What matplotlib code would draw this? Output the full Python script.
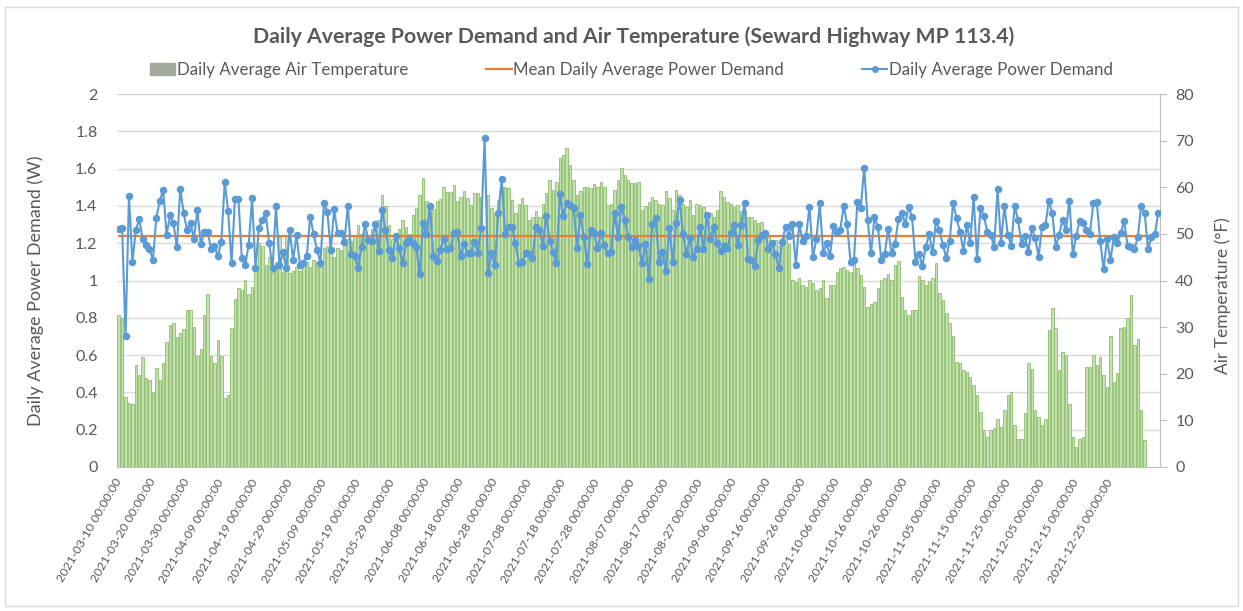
import matplotlib
matplotlib.use("Agg")
import matplotlib.pyplot as plt
from matplotlib.lines import Line2D
from matplotlib.patches import Patch, Rectangle
import numpy as np
import pandas as pd

# ---------------- data ----------------
start_date = "2021-03-10"

power_demand = [
    1.276, 1.283, 0.70, 1.455, 1.10, 1.27, 1.33, 1.224, 1.19, 1.17,
    1.108, 1.337, 1.428, 1.485, 1.244, 1.35, 1.31, 1.178, 1.492, 1.36,
    1.27, 1.31, 1.222, 1.378, 1.194, 1.258, 1.262, 1.17, 1.185, 1.13,
    1.208, 1.528, 1.373, 1.092, 1.437, 1.437, 1.119, 1.083, 1.19, 1.44,
    1.065, 1.283, 1.324, 1.36, 1.2, 1.065, 1.40, 1.083, 1.151, 1.065,
    1.271, 1.11, 1.242, 1.083, 1.096, 1.133, 1.342, 1.248, 1.163, 1.096,
    1.417, 1.369, 1.163, 1.382, 1.253, 1.257, 1.208, 1.40, 1.142, 1.131,
    1.065, 1.178, 1.303, 1.217, 1.214, 1.301, 1.16, 1.378, 1.271, 1.163,
    1.119, 1.24, 1.172, 1.096, 1.203, 1.221, 1.199, 1.178, 1.035, 1.31,
    1.248, 1.40, 1.131, 1.105, 1.163, 1.221, 1.167, 1.172, 1.253, 1.262,
    1.131, 1.196, 1.146, 1.149, 1.208, 1.149, 1.28, 1.766, 1.042, 1.146,
    1.083, 1.364, 1.542, 1.249, 1.289, 1.289, 1.199, 1.092, 1.101, 1.146,
    1.142, 1.122, 1.289, 1.271, 1.187, 1.346, 1.214, 1.155, 1.092, 1.464,
    1.346, 1.417, 1.405, 1.39, 1.176, 1.351, 1.232, 1.087, 1.271, 1.253,
    1.172, 1.257, 1.19, 1.146, 1.151, 1.364, 1.235, 1.396, 1.324, 1.235,
    1.181,
    1.217, 1.185, 1.096, 1.196, 1.006, 1.303, 1.333, 1.101, 1.155, 1.051,
    1.28, 1.101, 1.31, 1.432, 1.249, 1.142, 1.226, 1.124, 1.167, 1.289,
    1.169, 1.351, 1.222, 1.285, 1.199, 1.16, 1.187, 1.172, 1.257, 1.298,
    1.19, 1.298, 1.417, 1.113, 1.11, 1.078, 1.217, 1.244, 1.257, 1.167,
    1.199, 1.142, 1.065, 1.208, 1.289, 1.239, 1.303, 1.083, 1.303,
    1.212, 1.239, 1.396, 1.124, 1.221, 1.414, 1.149, 1.199, 1.131, 1.292,
    1.262, 1.271, 1.401, 1.303, 1.101, 1.11, 1.423, 1.39, 1.605, 1.324,
    1.146, 1.339, 1.289, 1.11, 1.142, 1.276, 1.146, 1.196, 1.328, 1.364,
    1.303, 1.396, 1.339, 1.101, 1.142, 1.078, 1.181, 1.248, 1.151, 1.321,
    1.271, 1.19, 1.122, 1.214, 1.417, 1.333, 1.262, 1.16, 1.30,
    1.199, 1.449, 1.115, 1.39, 1.346, 1.262, 1.244, 1.181, 1.489, 1.199,
    1.40, 1.244, 1.187, 1.40, 1.324, 1.196, 1.239, 1.155, 1.28, 1.226,
    1.128, 1.285, 1.298, 1.428, 1.36, 1.181, 1.244, 1.324, 1.271, 1.428,
    1.14, 1.239, 1.321, 1.31, 1.271, 1.249, 1.414, 1.423, 1.214, 1.062,
    1.221, 1.11, 1.232, 1.203, 1.253, 1.321, 1.187, 1.181, 1.167, 1.232,
    1.40, 1.364, 1.167, 1.235, 1.249, 1.364,
]

air_temperature = [
    32.7, 32.0, 15.1, 13.7, 13.6, 21.9, 19.7, 23.5, 19.0, 18.7,
    16.0, 21.2, 18.7, 22.4, 26.9, 30.5, 30.8, 27.9, 28.8, 29.7,
    33.7, 33.7, 30.1, 23.8, 25.4, 32.7, 37.2, 23.9, 22.2, 27.2,
    23.7, 14.7, 15.4, 29.9, 36.0, 38.3, 38.0, 40.1, 37.2, 38.7,
    43.0, 48.0, 47.3, 43.3, 45.1, 41.9, 44.0, 49.4, 41.9, 49.8,
    41.6,
    42, 43, 42, 43.5, 44, 43, 44.5, 44, 43, 47,
    47.5, 46, 45, 47, 46.5, 48, 49, 48.5, 49.5, 52,
    50, 50.5, 48.5, 51, 50, 53, 58.3, 56, 52, 49,
    50, 51, 53, 51.5, 50, 54, 55.5, 58.3, 62, 57,
    55, 55.3, 57, 57.5, 60, 59, 59, 60.5, 57,
    58, 59.1, 57.6, 56.2, 58.7, 58.7, 58, 51.5, 58.3, 55.5,
    54.4, 57.3, 60.1, 60.1, 59.8, 57.3, 54.4, 56.5, 57.6, 56.2,
    53, 53.7, 54.8, 53.7, 56.5, 58.7, 61.6, 59.4, 61.2, 66.2,
    66.9, 68.4, 64.8, 61.6, 58.3, 59.1, 60.1, 60.1, 59.8, 60.8,
    60.1, 61.2, 60.1, 56.2, 56.5, 59.4, 61.6, 64.1, 62.7, 61.6,
    61, 61, 61.2, 55.1, 56, 56.9, 58, 57.3, 56.5, 56.2,
    59.1, 57.6, 55.1, 59.4, 58.3, 56.5, 55.8, 57.3, 54.1, 56.5,
    56.2, 55.8, 53, 54.4, 53.7, 55.1, 59.1, 58, 56.9, 56.5,
    55.8, 56.2, 55, 55.1, 53.7, 53.7, 53, 52.3, 52.6, 49.4,
    49.4, 47.9, 48.6, 47.5, 48.6, 49.4, 47.9, 40.1, 39.7, 40.5,
    39, 38.5, 40.1, 39.5, 38, 38.3, 40.1, 36.2, 39, 39,
    41.9, 42.6, 43, 42.3, 41.9, 44.7, 42.6, 41.2, 38.7, 34.4,
    35, 35.3, 38.3, 40.1, 40.5, 41.4, 40.1, 43.3, 44.1, 36.5,
    33.7, 32.7, 33.7, 33.7, 40.9, 40.1, 39, 39.8, 40.5, 43.7,
    37.3, 35.8, 33, 30.8, 28, 22.6, 22.2, 20.8, 20.4,
    19.3, 17.6, 15.4, 11.8, 7.9, 6.5, 7.9, 8.3, 10.4, 8.6,
    12.2, 15.4, 16.1, 9, 6.1, 6.1, 11.5, 22.2, 21.1, 12.2,
    10.8, 9, 10.4, 29.4, 34.1, 29.8, 20.8, 24.7, 24, 13.6,
    6.5, 4.3, 6.1, 6.5, 21.5, 21.5, 24, 21.8, 23.6, 19.7,
    17.2, 28, 18.2, 20.1, 29.8, 30.1, 31.9, 36.9, 26.1, 27.5,
    12.2, 5.8,
]

mean_power = 1.24

title = "Daily Average Power Demand and Air Temperature (Seward Highway MP 113.4)"
series_names = ["Daily Average Air Temperature",
                "Mean Daily Average Power Demand",
                "Daily Average Power Demand"]
left_label = "Daily Average Power Demand (W)"
right_label = "Air Temperature (\u00b0F)"

# ---------------- derived ----------------
n = len(power_demand)
dates = pd.date_range(start_date, periods=n, freq="D")
x_power = np.arange(n)
x_temp = np.arange(len(air_temperature))
label_idx = list(range(0, 291, 10))
tick_labels = [dates[i].strftime("%Y-%m-%d") + " 00:00:00" for i in label_idx]

# ---------------- style ----------------
FONT = ["Lato", "DejaVu Sans"]
plt.rcParams["font.family"] = FONT
TXT = "#595959"
GRID = "#d9d9d9"

W, H = 1243, 611
fig = plt.figure(figsize=(W / 100, H / 100), dpi=100)
L, R, T, B = 117, 1160, 94, 467
ax2 = fig.add_axes([L / W, 1 - B / H, (R - L) / W, (B - T) / H])
ax = ax2.twinx()
ax.yaxis.tick_left()
ax.yaxis.set_label_position("left")
ax2.yaxis.tick_right()
ax2.yaxis.set_label_position("right")
ax2.set_zorder(1)
ax.set_zorder(2)
ax.patch.set_visible(False)

# gridlines (behind bars) on temperature axis, matching power steps 0.2
for gv in np.arange(8, 81, 8):
    ax2.axhline(gv, color=GRID, lw=1.0, zorder=0)

ax2.bar(x_temp, air_temperature, width=0.72, color="#c5e0b3",
        edgecolor="#8dbf6a", linewidth=0.6, zorder=2)
ax2.set_ylim(0, 80)
ax2.set_yticks(range(0, 81, 10))

ax.plot(x_power, [mean_power] * n, color="#ed7d31", lw=1.6, zorder=3)
ax.plot(x_power, power_demand, color="#5b9bd5", lw=1.5, marker="o",
        markersize=4.4, markerfacecolor="#5b9bd5", markeredgecolor="#5b9bd5",
        zorder=4)
ax.set_ylim(0, 2)
ax.set_yticks(np.arange(0, 2.01, 0.2))
ax.set_yticklabels(["0", "0.2", "0.4", "0.6", "0.8", "1", "1.2", "1.4",
                    "1.6", "1.8", "2"])
ax.set_xlim(-0.5, n - 0.5)

ax2.set_xticks(label_idx)
ax2.set_xticklabels(tick_labels, rotation=60, ha="right", va="center",
                    rotation_mode="anchor", fontsize=8.8, color=TXT)
ax2.tick_params(axis="x", length=0, pad=9)
ax.tick_params(axis="x", length=0, labelbottom=False)

ax.tick_params(axis="y", length=0, pad=14, labelsize=11.5, labelcolor=TXT)
ax2.tick_params(axis="y", length=5, color="#bfbfbf", pad=6, labelsize=11.5,
                labelcolor=TXT, direction="out")

for a in (ax, ax2):
    for s in ("top", "left", "right", "bottom"):
        a.spines[s].set_visible(False)
ax2.spines["right"].set_visible(True)
ax2.spines["right"].set_color("#bfbfbf")
ax2.spines["bottom"].set_visible(True)
ax2.spines["bottom"].set_color("#bfbfbf")

ax.set_ylabel(left_label, fontsize=13, color=TXT)
ax.yaxis.set_label_coords((44 - L) / (R - L), (B - 291) / (B - T))
ax2.set_ylabel(right_label, fontsize=12.5, color=TXT)
ax2.yaxis.set_label_coords((1214 - L) / (R - L), (B - 296) / (B - T))

fig.text(0.5 * (250 + 1018) / W, 1 - 37 / H, title, ha="center", va="center",
         fontsize=15.3, fontweight="bold", color=TXT)

handles = [
    Patch(facecolor="#a3a99b", edgecolor="#a3a99b"),
    Line2D([0], [0], color="#ed7d31", lw=1.6),
    Line2D([0], [0], color="#5b9bd5", lw=1.5, marker="o", markersize=4),
]
leg = fig.legend(handles, series_names, loc="center", ncol=3,
                 bbox_to_anchor=(0.5 * (155 + 1108) / W, 1 - 70 / H),
                 frameon=False, fontsize=12.2, handlelength=1.5,
                 handletextpad=0.1, columnspacing=4.6)
for t in leg.get_texts():
    t.set_color(TXT)

fig.add_artist(Rectangle((5 / W, 1 - 606 / H), (1238 - 5) / W, (606 - 7) / H,
                         transform=fig.transFigure, fill=False,
                         edgecolor=GRID, lw=1.0))

fig.savefig("out.png", dpi=100)
